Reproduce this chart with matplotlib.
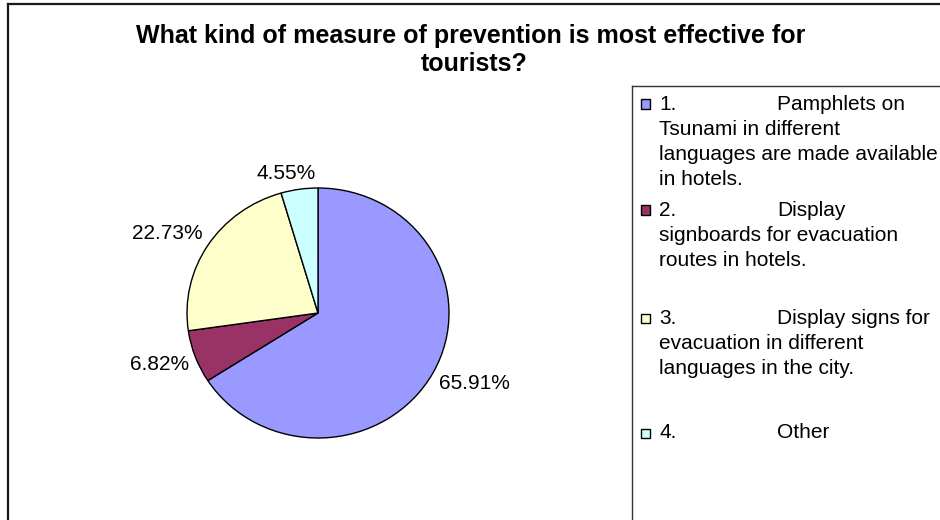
import matplotlib
matplotlib.use("Agg")
import matplotlib.pyplot as plt
from matplotlib.patches import Rectangle
from matplotlib.lines import Line2D
import numpy as np

# ---- data ----
title = "What kind of measure of prevention is most effective for \ntourists?"
legend_num = ["1.", "2.", "3.", "4."]
legend_head = ["Pamphlets on", "Display", "Display signs for", "Other"]
legend_rest = [
    ["Tsunami in different", "languages are made available", "in hotels."],
    ["signboards for evacuation", "routes in hotels."],
    ["evacuation in different", "languages in the city."],
    [],
]
counts = [29, 3, 10, 2]
colors = ["#9999FF", "#993366", "#FFFFCC", "#CCFFFF"]

plt.rcParams['font.family'] = ['Liberation Sans', 'DejaVu Sans']

W, H = 940, 520
fig = plt.figure(figsize=(9.4, 5.2), dpi=100)
fig.patch.set_facecolor("white")


def fx(px):
    return px / W


def fy(py):
    return 1 - py / H


# outer chart frame (extends beyond right/bottom edges)
fig.add_artist(Line2D([fx(8), fx(8)], [fy(3.5), fy(540)], color="#1a1a1a", lw=1.6,
                      transform=fig.transFigure))
fig.add_artist(Line2D([fx(8), fx(960)], [fy(3.5), fy(3.5)], color="#1a1a1a", lw=1.6,
                      transform=fig.transFigure))

# title
fig.text(fx(474), fy(50), title, ha="center", va="center", fontsize=18,
         fontweight="bold", linespacing=1.2, multialignment="center")

# pie
cx, cy, rx, ry = 318, 313, 131, 125
half_w, half_h = 200, 200
ax = fig.add_axes([fx(cx - half_w), fy(cy + half_h), 2 * half_w / W, 2 * half_h / H])
wedges, _ = ax.pie(counts, colors=colors, startangle=90, counterclock=False,
                   wedgeprops=dict(edgecolor="black", linewidth=1.0))
ax.set_aspect("auto")
ax.set_xlim(-half_w / rx, half_w / rx)
ax.set_ylim(-half_h / ry, half_h / ry)
ax.axis("off")

total = sum(counts)
fig.canvas.draw()
renderer = fig.canvas.get_renderer()
for w, c in zip(wedges, counts):
    th = np.deg2rad((w.theta1 + w.theta2) / 2)
    r = 1.05
    px, py = ax.transData.transform((r * np.cos(th), r * np.sin(th)))
    t = ax.text(0, 0, f"{100 * c / total:.2f}%", ha="center", va="center",
                fontsize=15)
    bb = t.get_window_extent(renderer)
    dx = bb.width / 2 * np.clip(3.0 * np.cos(th), -1, 1)
    dy = bb.height / 2 * np.clip(1.7 * np.sin(th), -1, 1)
    t.set_position(ax.transData.inverted().transform((px + dx, py + dy)))

# legend box (extends beyond right/bottom edges)
fig.add_artist(Line2D([fx(632), fx(632)], [fy(86), fy(540)], color="#333333", lw=1.0,
                      transform=fig.transFigure))
fig.add_artist(Line2D([fx(632), fx(960)], [fy(86), fy(86)], color="#333333", lw=1.0,
                      transform=fig.transFigure))

entry_y = [104, 210, 318, 433]
line_step = 25.2
for num, head, rest, col, y0 in zip(legend_num, legend_head, legend_rest, colors, entry_y):
    fig.add_artist(Rectangle((fx(641), fy(y0 + 4.5)), 9 / W, 9 / H, facecolor=col,
                             edgecolor="black", lw=1.0, transform=fig.transFigure))
    fig.text(fx(659), fy(y0), num, ha="left", va="center", fontsize=15)
    fig.text(fx(777), fy(y0), head, ha="left", va="center", fontsize=15)
    for i, line in enumerate(rest):
        fig.text(fx(659), fy(y0 + line_step * (i + 1)), line, ha="left", va="center",
                 fontsize=15)

fig.savefig("out.png", dpi=100, facecolor="white")
